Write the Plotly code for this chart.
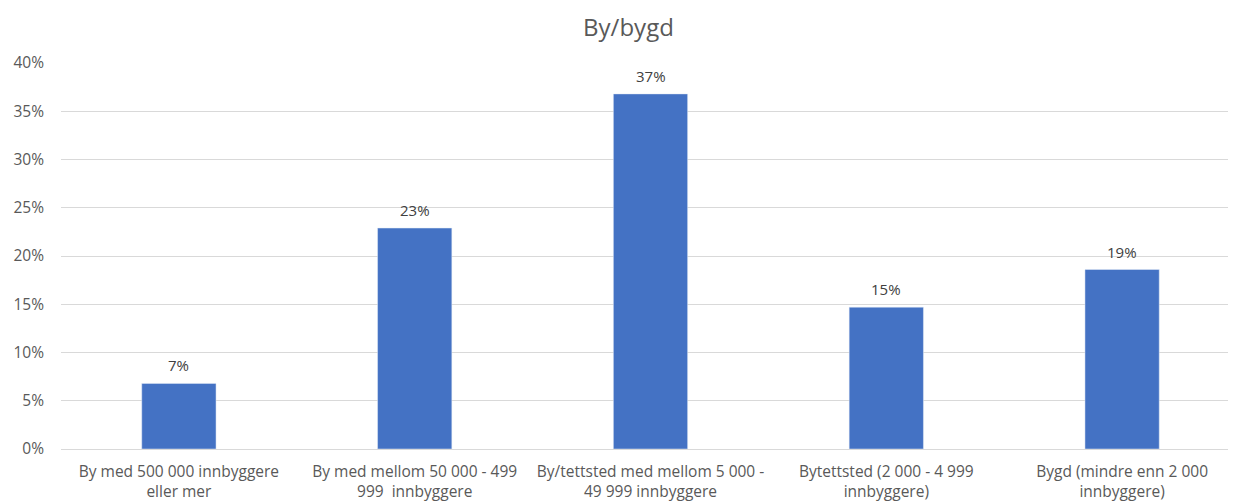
import plotly.graph_objects as go

categories = [
    "By med 500 000 innbyggere<br>eller mer",
    "By med mellom 50 000 - 499<br>999  innbyggere",
    "By/tettsted med mellom 5 000 -<br>49 999 innbyggere",
    "Bytettsted (2 000 - 4 999<br>innbyggere)",
    "Bygd (mindre enn 2 000<br>innbyggere)",
]
values = [0.068, 0.229, 0.368, 0.147, 0.186]
labels = ["7%", "23%", "37%", "15%", "19%"]

FONT = "Open Sans"
GRAY = "#595959"

fig = go.Figure()
fig.add_trace(go.Bar(x=categories, y=values, marker_color="#4472C4", width=0.315,
                     hoverinfo="skip"))

for c, v, t in zip(categories, values, labels):
    fig.add_annotation(x=c, y=v, text=t, showarrow=False, yanchor="bottom",
                       yshift=6, font=dict(family=FONT, size=15, color="#404040"))

fig.update_layout(
    width=1236, height=504,
    margin=dict(l=53, r=4, t=55, b=63),
    paper_bgcolor="white", plot_bgcolor="white",
    title=dict(text="By/bygd", x=0.502, xanchor="center", y=0.962, yanchor="middle",
               font=dict(family=FONT, size=24, color=GRAY)),
    showlegend=False,
)
fig.update_yaxes(range=[0, 0.4], dtick=0.05, tickformat=".0%", showgrid=True,
                 gridcolor="#d9d9d9", gridwidth=1, zeroline=True, zerolinecolor="#d9d9d9",
                 zerolinewidth=1, showline=False, ticks="", automargin=False,
                 tickfont=dict(family=FONT, size=15.5, color=GRAY), ticklabelstandoff=16)
fig.update_xaxes(showline=False, ticks="", tickangle=0, automargin=False,
                 tickfont=dict(family=FONT, size=15.5, color=GRAY), ticklabelstandoff=11)

fig.write_html("out.html")
